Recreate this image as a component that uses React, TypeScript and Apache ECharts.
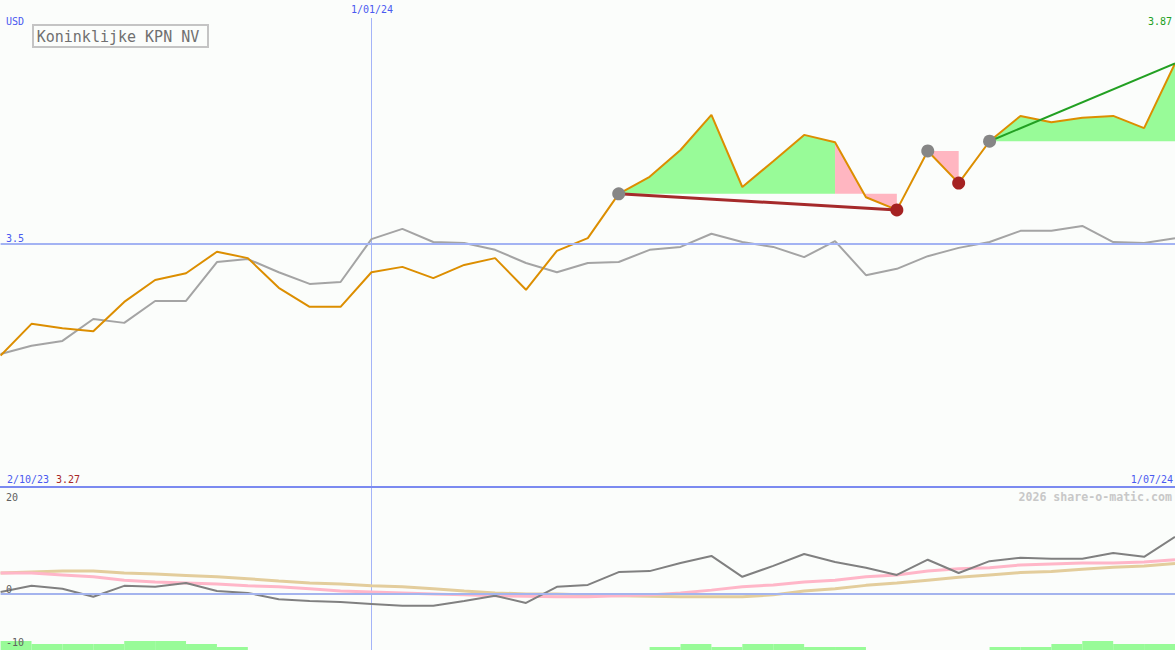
import React, { useEffect, useRef } from 'react';
import * as echarts from 'echarts';

// ---------- data ----------
const weeks: string[] = Array.from({ length: 39 }, (_, i) => 'W' + (i + 1));
const intervals: string[] = weeks.slice(0, 38);

const title = 'Koninklijke KPN NV';
const currency = 'USD';
const startDate = '2/10/23';
const midDate = '1/01/24';
const endDate = '1/07/24';
const midIndex = 12;
const priceLevel = 3.5;
const footer = '2026 share-o-matic.com';
const lowerTicks = ['20', '0', '-10'];

const price = [
  3.27, 3.335, 3.326, 3.32, 3.38, 3.425, 3.439, 3.483, 3.47, 3.409,
  3.37, 3.37, 3.441, 3.452, 3.429, 3.456, 3.47, 3.405, 3.485, 3.511,
  3.602, 3.637, 3.692, 3.764, 3.616, 3.669, 3.723, 3.708, 3.595, 3.569,
  3.69, 3.624, 3.71, 3.762, 3.749, 3.758, 3.762, 3.737, 3.87,
];
const compare = [
  3.273, 3.29, 3.3, 3.345, 3.337, 3.382, 3.382, 3.462, 3.468, 3.441,
  3.417, 3.421, 3.509, 3.53, 3.503, 3.501, 3.487, 3.46, 3.441, 3.46,
  3.462, 3.487, 3.493, 3.52, 3.503, 3.493, 3.472, 3.505, 3.435, 3.448,
  3.474, 3.491, 3.503, 3.526, 3.526, 3.536, 3.503, 3.501, 3.511,
];
const momentum = [
  0.4, 1.7, 1.1, -0.6, 1.7, 1.5, 2.3, 0.6, 0.2, -1.1,
  -1.5, -1.7, -2.1, -2.5, -2.5, -1.5, -0.4, -1.9, 1.5, 1.9,
  4.6, 4.8, 6.5, 8.0, 3.6, 5.9, 8.4, 6.7, 5.5, 4.0,
  7.2, 4.4, 6.9, 7.6, 7.4, 7.4, 8.6, 7.8, 12.0,
];
const fastAvg = [
  4.4, 4.4, 4.0, 3.6, 2.9, 2.5, 2.3, 2.1, 1.7, 1.5,
  1.1, 0.6, 0.4, 0.2, 0.0, -0.2, -0.4, -0.5, -0.6, -0.6,
  -0.4, -0.2, 0.2, 0.8, 1.5, 1.9, 2.5, 2.9, 3.6, 4.0,
  4.8, 5.3, 5.5, 6.1, 6.3, 6.5, 6.5, 6.7, 7.2,
];
const slowAvg = [
  4.4, 4.6, 4.8, 4.8, 4.4, 4.2, 3.9, 3.6, 3.2, 2.7,
  2.3, 2.1, 1.7, 1.5, 1.1, 0.6, 0.2, 0.0, 0.0, -0.2,
  -0.4, -0.5, -0.6, -0.6, -0.6, -0.2, 0.6, 1.1, 1.8, 2.3,
  2.9, 3.5, 4.0, 4.5, 4.7, 5.2, 5.6, 5.9, 6.4,
];
const volumeSteps = [
  3, 2, 2, 2, 3, 3, 2, 1, 0, 0,
  0, 0, 0, 0, 0, 0, 0, 0, 0, 0,
  0, 1, 2, 1, 2, 2, 1, 1, 0, 0,
  0, 0, 1, 1, 2, 3, 2, 2,
];

const riseFills = [
  { from: 20, to: 27, base: 20 },
  { from: 32, to: 38, base: 32 },
];
const fallFills = [
  { from: 27, to: 29, base: 20 },
  { from: 30, to: 31, base: 30 },
];
const swingHighs = [20, 30, 32];
const swingLows = [29, 31];
const downTrend = [20, 29];
const upTrend = [32, 38];

// ---------- styles ----------
const BG = '#fbfdfb';
const BLUE_TEXT = '#4a5af0';
const VLINE = '#a4b4f8';
const MONO = '"DejaVu Sans Mono", "Liberation Mono", monospace';
const GREEN_FILL = '#98fb98';
const PINK_FILL = '#ffb6c1';
const GRID_LEFT = 0.6;

function fillSeries(region: { from: number; to: number; base: number }, color: string, key: string) {
  const baseVal = price[region.base];
  const inR = (i: number) => i >= region.from && i <= region.to;
  const baseData = weeks.map((_, i) => (inR(i) ? baseVal : null));
  const diffData = weeks.map((_, i) => (inR(i) ? +(price[i] - baseVal).toFixed(4) : null));
  return [
    {
      type: 'line', xAxisIndex: 0, yAxisIndex: 0, data: baseData, stack: key, stackStrategy: 'all',
      symbol: 'none', lineStyle: { opacity: 0, width: 0 }, silent: true, z: 1,
    },
    {
      type: 'line', xAxisIndex: 0, yAxisIndex: 0, data: diffData, stack: key, stackStrategy: 'all',
      symbol: 'none', lineStyle: { opacity: 0, width: 0 }, areaStyle: { color, opacity: 1 }, silent: true, z: 1,
    },
  ];
}

function trendSeries(pair: number[], color: string, width: number) {
  return {
    type: 'line', xAxisIndex: 0, yAxisIndex: 0,
    data: weeks.map((_, i) => (i === pair[0] || i === pair[1] ? price[i] : null)),
    connectNulls: true, symbol: 'none', lineStyle: { color, width }, silent: true, z: 4,
  };
}

function txt(text: string, x: number, y: number, fill: string, align: string, size = 10, weight = 'normal', extra: any = {}) {
  return {
    type: 'text', x, y, silent: true, z: 100,
    style: {
      text, fill, fontSize: size, fontFamily: MONO, fontWeight: weight,
      align, textAlign: align, verticalAlign: 'middle', textVerticalAlign: 'middle', ...extra,
    },
  };
}

export default function App() {
  const ref = useRef<HTMLDivElement>(null);

  useEffect(() => {
    if (!ref.current) return;
    const chart = echarts.init(ref.current, undefined, { renderer: 'svg' });

    const series: any[] = [];
    riseFills.forEach((r, k) => series.push(...fillSeries(r, GREEN_FILL, 'rise' + k)));
    fallFills.forEach((r, k) => series.push(...fillSeries(r, PINK_FILL, 'fall' + k)));

    series.push({
      type: 'line', xAxisIndex: 0, yAxisIndex: 0, data: compare, symbol: 'none',
      lineStyle: { color: '#a4a4a4', width: 2 }, silent: true, z: 2,
      markLine: {
        silent: true, symbol: ['none', 'none'], label: { show: false }, animation: false,
        lineStyle: { color: '#a3b3f3', width: 2, type: 'solid', opacity: 1 },
        data: [{ yAxis: priceLevel }],
      },
    });
    series.push({
      type: 'line', xAxisIndex: 0, yAxisIndex: 0, data: price, symbol: 'none',
      lineStyle: { color: '#dc8e00', width: 2 }, silent: true, z: 3,
    });
    series.push(trendSeries(downTrend, '#a52a2a', 3));
    series.push(trendSeries(upTrend, '#22a022', 2));
    series.push({
      type: 'scatter', xAxisIndex: 0, yAxisIndex: 0, symbolSize: 13,
      data: swingHighs.map((i) => [i, price[i]]), itemStyle: { color: '#868686', opacity: 1 }, silent: true, z: 5,
    });
    series.push({
      type: 'scatter', xAxisIndex: 0, yAxisIndex: 0, symbolSize: 13,
      data: swingLows.map((i) => [i, price[i]]), itemStyle: { color: '#a52222', opacity: 1 }, silent: true, z: 5,
    });

    // lower panel
    series.push({
      type: 'bar', xAxisIndex: 2, yAxisIndex: 2, data: volumeSteps, barWidth: '100%',
      barCategoryGap: '0%', itemStyle: { color: GREEN_FILL }, silent: true, z: 1,
    });
    series.push({
      type: 'line', xAxisIndex: 1, yAxisIndex: 1, data: slowAvg, symbol: 'none',
      lineStyle: { color: '#e3cd9c', width: 3 }, silent: true, z: 2,
      markLine: {
        silent: true, symbol: ['none', 'none'], label: { show: false }, animation: false,
        lineStyle: { color: '#a4b4ee', width: 2, type: 'solid', opacity: 1 },
        data: [{ yAxis: 0 }],
      },
    });
    series.push({
      type: 'line', xAxisIndex: 1, yAxisIndex: 1, data: fastAvg, symbol: 'none',
      lineStyle: { color: '#ffb6c8', width: 3 }, silent: true, z: 3,
    });
    series.push({
      type: 'line', xAxisIndex: 1, yAxisIndex: 1, data: momentum, symbol: 'none',
      lineStyle: { color: '#808080', width: 2 }, silent: true, z: 4,
    });

    const hidden = { show: false };
    const midSplit = {
      show: true,
      interval: (idx: number) => idx === midIndex,
      lineStyle: { color: VLINE, width: 1, type: 'solid', opacity: 1 },
    };
    chart.setOption({
      animation: false,
      backgroundColor: BG,
      grid: [
        { left: GRID_LEFT, right: 0, top: 0, height: 487 },
        { left: GRID_LEFT, right: 0, top: 487, height: 163 },
      ],
      xAxis: [
        {
          type: 'category', gridIndex: 0, data: weeks, boundaryGap: false,
          axisLine: { show: true, onZero: false, lineStyle: { color: '#7b8af0', width: 2 } },
          axisTick: hidden, axisLabel: hidden, splitLine: midSplit,
        },
        {
          type: 'category', gridIndex: 1, data: weeks, boundaryGap: false,
          axisLine: hidden, axisTick: hidden, axisLabel: hidden, splitLine: midSplit,
        },
        { type: 'category', gridIndex: 1, data: intervals, boundaryGap: true, show: false },
      ],
      yAxis: [
        { type: 'value', gridIndex: 0, min: 3, max: 4, show: false, splitLine: hidden },
        { type: 'value', gridIndex: 1, min: -11.8, max: 22.5, show: false, splitLine: hidden },
        { type: 'value', gridIndex: 1, min: 0, max: 163 / 3, show: false, splitLine: hidden },
      ],
      series,
      graphic: [
        {
          type: 'line', silent: true, z: 0,
          shape: { x1: 0, y1: 487, x2: 1, y2: 487 },
          style: { stroke: '#7b8af0', lineWidth: 2 },
        },
        txt(currency, 6, 21, BLUE_TEXT, 'left'),
        txt(midDate, 372, 9, BLUE_TEXT, 'center', 10, 'normal', {
          backgroundColor: BG, padding: [4, 3, 4, 3],
        }),
        txt(price[price.length - 1].toFixed(2), 1172, 21, '#22a022', 'right'),
        txt(String(priceLevel), 6, 238, BLUE_TEXT, 'left'),
        txt(startDate, 7, 479, BLUE_TEXT, 'left'),
        txt(price[0].toFixed(2), 56, 479, '#a82828', 'left'),
        txt(endDate, 1173, 479, BLUE_TEXT, 'right'),
        txt(footer, 1172, 497, '#c8c8c8', 'right', 11.6, 'bold'),
        txt(lowerTicks[0], 6, 497, '#606060', 'left'),
        txt(lowerTicks[1], 6, 589, '#606060', 'left'),
        txt(lowerTicks[2], 6, 642, '#606060', 'left'),
        {
          type: 'rect', z: 100, silent: true,
          shape: { x: 33, y: 25, width: 175, height: 22 },
          style: { fill: BG, stroke: '#c4c4c4', lineWidth: 2 },
        },
        txt(title, 118, 36.5, '#707070', 'center', 15),
      ],
    });

    return () => chart.dispose();
  }, []);

  return (
    <div
      ref={ref}
      style={{ position: 'fixed', left: 0, top: 0, width: 1175, height: 650 }}
    />
  );
}
